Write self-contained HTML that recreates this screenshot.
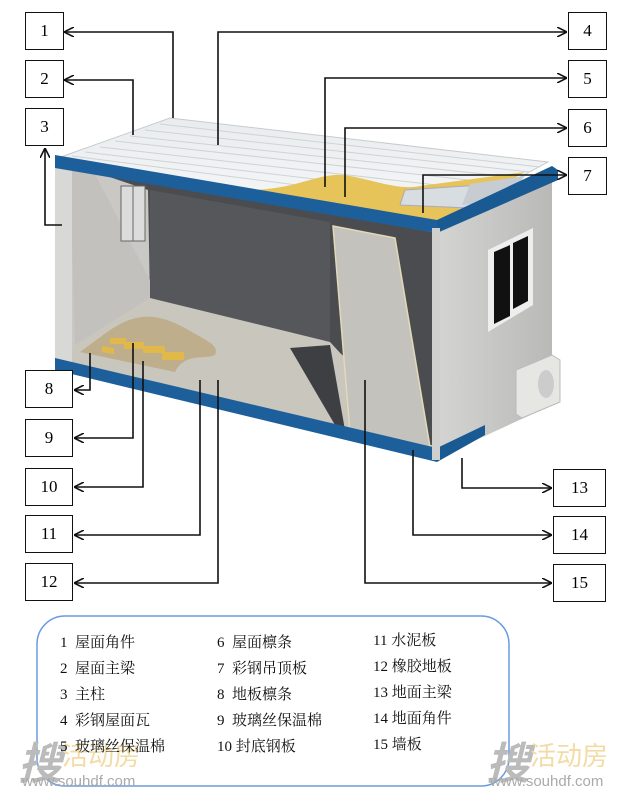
<!DOCTYPE html>
<html><head><meta charset="utf-8"><style>
html,body{margin:0;padding:0;background:#fff;}
body{width:638px;height:802px;overflow:hidden;position:relative;font-family:"Liberation Serif","Noto Serif CJK SC",serif;}
.b{position:absolute;border:1.5px solid #111;background:#fff;font-size:17px;display:flex;align-items:center;justify-content:center;box-sizing:border-box;}
.lg{position:absolute;font-size:15px;color:#111;font-family:"Liberation Serif","Noto Serif CJK SC",serif;white-space:nowrap;}
.wm{position:absolute;font-family:"Liberation Sans","Noto Sans CJK SC",sans-serif;}
</style></head><body>
<svg width="638" height="802" style="position:absolute;left:0;top:0">
<defs>
<linearGradient id="roof" x1="0" y1="0" x2="0" y2="1"><stop offset="0" stop-color="#e9ecee"/><stop offset="1" stop-color="#f7f8f8"/></linearGradient>
<linearGradient id="end" x1="0" y1="0" x2="1" y2="0"><stop offset="0" stop-color="#d4d4d2"/><stop offset="1" stop-color="#b9b9b7"/></linearGradient>
<marker id="a" viewBox="0 0 10 10" refX="9" refY="5" markerWidth="10" markerHeight="10" orient="auto-start-reverse" markerUnits="userSpaceOnUse"><path d="M0,0 L10,5 L0,10" fill="none" stroke="#111" stroke-width="1.6"/></marker>
</defs>
<!-- roof -->
<polygon points="170,118 548,162 437,222 58,158" fill="url(#roof)" stroke="#c8cccf"/>
<g stroke="#cfd3d6" stroke-width="1">
<line x1="160" y1="124" x2="540" y2="167"/><line x1="145" y1="130" x2="530" y2="172"/><line x1="130" y1="136" x2="520" y2="178"/><line x1="115" y1="141" x2="505" y2="184"/><line x1="100" y1="147" x2="490" y2="191"/><line x1="85" y1="152" x2="475" y2="198"/><line x1="72" y1="156" x2="460" y2="206"/>
</g>
<path d="M248,190 C300,190 320,170 350,176 C380,182 400,190 420,186 L525,172 L437,222 L300,200 Z" fill="#e6c45a"/>
<path d="M405,190 L480,185 L470,208 L400,205 Z" fill="#d8dde2" stroke="#aab" stroke-width="1"/>
<path d="M470,184 L525,176 L505,200 L462,205 Z" fill="#c7ccd2"/>
<!-- interior -->
<polygon points="60,168 437,233 437,452 60,362" fill="#c9c8c4"/>
<polygon points="95,172 437,233 437,445 425,445 410,410 330,345 150,300 148,190" fill="#4a4c50"/>
<polygon points="150,190 330,222 330,345 150,300" fill="#55575b"/>
<polygon points="70,170 95,174 150,280 150,300 75,345" fill="#c2c1bd"/>
<polygon points="75,345 150,298 330,342 425,445 437,452 60,362" fill="#c9c6be"/>
<polygon points="290,348 330,345 345,430 335,425" fill="#3d3f43"/>
<path d="M110,330 C140,310 160,315 185,328 C205,340 220,345 215,355 C205,360 185,352 175,372 L80,352 Z" fill="#bfae8c"/>
<g fill="#e0b94a"><rect x="102" y="328" width="12" height="6" transform="skewY(10)"/><rect x="110" y="338" width="16" height="6"/><rect x="124" y="342" width="20" height="7"/><rect x="143" y="346" width="22" height="7"/><rect x="162" y="352" width="22" height="8"/></g>
<rect x="121" y="186" width="24" height="55" fill="#dcdcdc" stroke="#666"/>
<line x1="133" y1="186" x2="133" y2="241" stroke="#666"/>
<!-- wall panel 15 -->
<polygon points="333,226 395,238 430,447 350,432" fill="#c3c2bd" stroke="#e2d9b8" stroke-width="1.5"/>
<!-- left post -->
<polygon points="55,160 72,166 72,365 55,360" fill="#d8d8d6"/>
<!-- right end -->
<polygon points="437,230 552,176 552,405 437,458" fill="url(#end)"/>
<polygon points="488,250 533,228 533,305 488,332" fill="#eee"/>
<polygon points="494,252 510,245 510,316 494,324" fill="#111"/>
<polygon points="513,243 528,236 528,301 513,309" fill="#111"/>
<!-- AC -->
<polygon points="516,370 552,355 560,360 560,402 522,418 516,414" fill="#e6e6e2" stroke="#bbb"/>
<ellipse cx="546" cy="384" rx="8" ry="14" fill="#ccc"/>
<!-- blue beams -->
<polygon points="55,155 437,220 437,233 55,168" fill="#1d5f9a"/>
<polygon points="437,220 552,166 558,170 558,180 437,233" fill="#1a5a93"/>
<polygon points="55,358 437,448 437,462 55,370" fill="#1d5f9a"/>
<polygon points="437,448 485,425 485,435 437,462" fill="#1a5a93"/>
<rect x="432" y="228" width="8" height="232" fill="#cfcfcd"/>
<!-- leaders -->
<g fill="none" stroke="#111" stroke-width="1.6">
<polyline points="173,118 173,32 65,32" marker-end="url(#a)"/>
<polyline points="133,135 133,80 65,80" marker-end="url(#a)"/>
<polyline points="62,225 45,225 45,149" marker-end="url(#a)"/>
<polyline points="218,145 218,32 566,32" marker-end="url(#a)"/>
<polyline points="325,187 325,78 566,78" marker-end="url(#a)"/>
<polyline points="345,197 345,128 566,128" marker-end="url(#a)"/>
<polyline points="423,213 423,175 566,175" marker-end="url(#a)"/>
<polyline points="90,353 90,390 75,390" marker-end="url(#a)"/>
<polyline points="133,343 133,438 75,438" marker-end="url(#a)"/>
<polyline points="143,361 143,487 75,487" marker-end="url(#a)"/>
<polyline points="200,380 200,535 75,535" marker-end="url(#a)"/>
<polyline points="218,380 218,583 75,583" marker-end="url(#a)"/>
<polyline points="462,458 462,488 551,488" marker-end="url(#a)"/>
<polyline points="413,450 413,535 551,535" marker-end="url(#a)"/>
<polyline points="365,380 365,583 551,583" marker-end="url(#a)"/>
</g>
<rect x="37" y="616" width="472" height="170" rx="28" fill="none" stroke="#6a9be0" stroke-width="1.5"/>
</svg>
<div class="b" style="left:25px;top:12px;width:39px;height:38px">1</div>
<div class="b" style="left:25px;top:60px;width:39px;height:38px">2</div>
<div class="b" style="left:25px;top:108px;width:39px;height:38px">3</div>
<div class="b" style="left:568px;top:12px;width:39px;height:38px">4</div>
<div class="b" style="left:568px;top:60px;width:39px;height:38px">5</div>
<div class="b" style="left:568px;top:109px;width:39px;height:38px">6</div>
<div class="b" style="left:568px;top:157px;width:39px;height:38px">7</div>
<div class="b" style="left:25px;top:370px;width:48px;height:38px">8</div>
<div class="b" style="left:25px;top:419px;width:48px;height:38px">9</div>
<div class="b" style="left:25px;top:468px;width:48px;height:38px">10</div>
<div class="b" style="left:25px;top:515px;width:48px;height:38px">11</div>
<div class="b" style="left:25px;top:563px;width:48px;height:38px">12</div>
<div class="b" style="left:553px;top:469px;width:53px;height:38px">13</div>
<div class="b" style="left:553px;top:516px;width:53px;height:38px">14</div>
<div class="b" style="left:553px;top:564px;width:53px;height:38px">15</div>
<div class="wm" style="left:18px;top:728px;font-size:44px;color:#bbb;font-style:italic;font-weight:bold">搜</div>
<div class="wm" style="left:62px;top:736px;font-size:26px;color:#f3dba6">活动房</div>
<div class="wm" style="left:22px;top:773px;font-size:15px;color:#aaa">www.souhdf.com</div>
<div class="wm" style="left:486px;top:728px;font-size:44px;color:#bbb;font-style:italic;font-weight:bold">搜</div>
<div class="wm" style="left:530px;top:736px;font-size:26px;color:#f3dba6">活动房</div>
<div class="wm" style="left:490px;top:773px;font-size:15px;color:#aaa">www.souhdf.com</div>
<div class="lg" style="left:60px;top:631px">1&nbsp; 屋面角件</div>
<div class="lg" style="left:60px;top:657px">2&nbsp; 屋面主梁</div>
<div class="lg" style="left:60px;top:683px">3&nbsp; 主柱</div>
<div class="lg" style="left:60px;top:709px">4&nbsp; 彩钢屋面瓦</div>
<div class="lg" style="left:60px;top:735px">5&nbsp; 玻璃丝保温棉</div>
<div class="lg" style="left:217px;top:631px">6&nbsp; 屋面檩条</div>
<div class="lg" style="left:217px;top:657px">7&nbsp; 彩钢吊顶板</div>
<div class="lg" style="left:217px;top:683px">8&nbsp; 地板檩条</div>
<div class="lg" style="left:217px;top:709px">9&nbsp; 玻璃丝保温棉</div>
<div class="lg" style="left:217px;top:735px">10 封底钢板</div>
<div class="lg" style="left:373px;top:629px">11 水泥板</div>
<div class="lg" style="left:373px;top:655px">12 橡胶地板</div>
<div class="lg" style="left:373px;top:681px">13 地面主梁</div>
<div class="lg" style="left:373px;top:707px">14 地面角件</div>
<div class="lg" style="left:373px;top:733px">15 墙板</div>
</body></html>
